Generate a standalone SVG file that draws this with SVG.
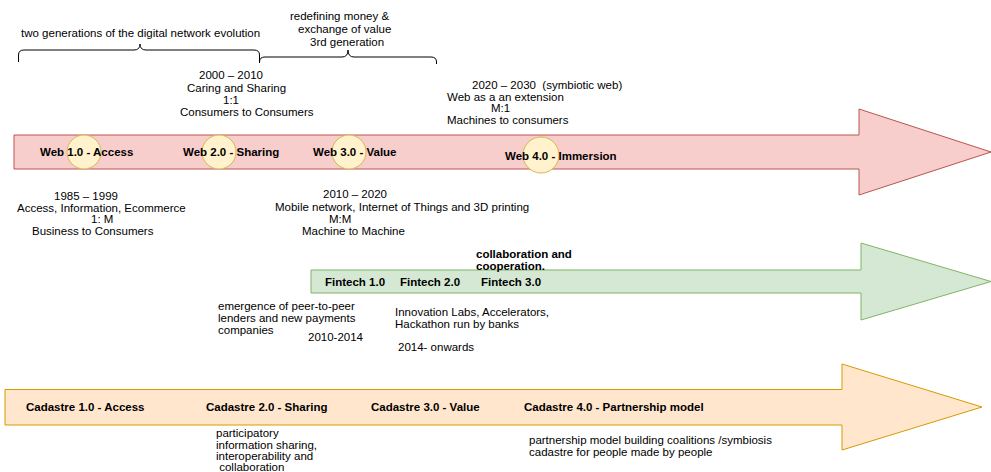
<svg xmlns="http://www.w3.org/2000/svg" width="991" height="472" viewBox="0 0 991 472">
<style>
text{font-family:"Liberation Sans",Arial,Helvetica,sans-serif;font-size:11.5px;fill:#000;}
.b{font-weight:bold;}
.red{fill:#f8cecc;stroke:#b85450;stroke-width:1;}
.grn{fill:#d5e8d4;stroke:#82b366;stroke-width:1;}
.org{fill:#ffe6cc;stroke:#d79b00;stroke-width:1;}
.cir{fill:#fff2cc;stroke:#d6b656;stroke-width:1;}
.brace{fill:none;stroke:#000;stroke-width:1;}
</style>
<rect width="991" height="472" fill="#fff"/>
<g id="arrow-web">
<polygon class="red" points="14,135 859,135 859,109 991,152 859,195 859,169 14,169"/>
</g>
<g id="arrow-fintech">
<polygon class="grn" points="311,270 861,270 861,243 991,281.5 861,320 861,293 311,293"/>
</g>
<g id="arrow-cadastre">
<polygon class="org" points="5,389.5 842,389.5 842,364 982,407 842,450 842,425 5,425"/>
</g>
<g id="braces">
<path class="brace" d="M18.5,62 V55 Q18.5,50 24,50 H134 Q140,50 140,44 Q140,50 146,50 H254 Q259.5,50 259.5,55 V63"/>
<path class="brace" d="M259.5,63 V62 Q259.5,57 265,57 H342 Q348,57 348,50 Q348,57 354,57 H431 Q436.5,57 436.5,62 V64"/>
</g>
<g id="web1">
<circle class="cir" cx="84" cy="152" r="17"/>
<text class="b" x="40" y="156">Web 1.0 - Access</text>
</g>
<g id="web2">
<circle class="cir" cx="219" cy="152" r="17"/>
<text class="b" x="183" y="156">Web 2.0 - Sharing</text>
</g>
<g id="web3">
<circle class="cir" cx="349" cy="152" r="17"/>
<text class="b" x="313" y="156">Web 3.0 - Value</text>
</g>
<g id="web4">
<circle class="cir" cx="541" cy="155" r="18"/>
<text class="b" x="505" y="160">Web 4.0 - Immersion</text>
</g>
<g id="top-notes">
<text x="21" y="37">two generations of the digital network evolution</text>
<text x="290" y="20">redefining money &amp;</text>
<text x="298" y="33">exchange of value</text>
<text x="310" y="46">3rd generation</text>
</g>
<g id="web2-note">
<text x="199" y="79">2000 – 2010</text>
<text x="187" y="91.5">Caring and Sharing</text>
<text x="223" y="104">1:1</text>
<text x="180" y="116">Consumers to Consumers</text>
</g>
<g id="web4-note">
<text x="472" y="89" xml:space="preserve">2020 – 2030  (symbiotic web)</text>
<text x="447" y="101">Web as a an extension</text>
<text x="491" y="112">M:1</text>
<text x="447" y="124">Machines to consumers</text>
</g>
<g id="web1-note">
<text x="54" y="200">1985 – 1999</text>
<text x="17" y="212">Access, Information, Ecommerce</text>
<text x="91" y="223">1: M</text>
<text x="32" y="235">Business to Consumers</text>
</g>
<g id="web3-note">
<text x="323" y="198">2010 – 2020</text>
<text x="275" y="211">Mobile network, Internet of Things and 3D printing</text>
<text x="329" y="223">M:M</text>
<text x="302" y="235">Machine to Machine</text>
</g>
<g id="fintech">
<text class="b" x="476" y="258">collaboration and</text>
<text class="b" x="476" y="270">cooperation.</text>
<text class="b" x="325" y="286">Fintech 1.0</text>
<text class="b" x="400" y="286">Fintech 2.0</text>
<text class="b" x="481" y="286">Fintech 3.0</text>
<text x="218" y="310">emergence of peer-to-peer</text>
<text x="218" y="322">lenders and new payments</text>
<text x="218" y="334">companies</text>
<text x="308" y="341">2010-2014</text>
<text x="395" y="316">Innovation Labs, Accelerators,</text>
<text x="395" y="328">Hackathon run by banks</text>
<text x="398" y="351">2014- onwards</text>
</g>
<g id="cadastre">
<text class="b" x="26" y="411">Cadastre 1.0 - Access</text>
<text class="b" x="206" y="411">Cadastre 2.0 - Sharing</text>
<text class="b" x="371" y="411">Cadastre 3.0 - Value</text>
<text class="b" x="524" y="411">Cadastre 4.0 - Partnership model</text>
<text x="216" y="437">participatory</text>
<text x="216" y="449">information sharing,</text>
<text x="216" y="460">interoperability and</text>
<text x="216" y="471" xml:space="preserve"> collaboration</text>
<text x="529" y="444">partnership model building coalitions /symbiosis</text>
<text x="529" y="456">cadastre for people made by people</text>
</g>
</svg>
